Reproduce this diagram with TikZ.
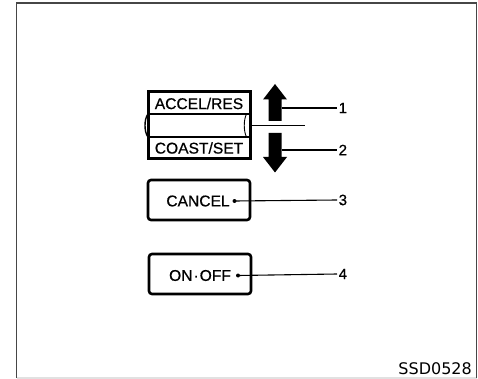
\documentclass[tikz,border=0pt]{standalone}
\usepackage{fontspec}
\setmainfont{Liberation Sans}
\newfontfamily\keyfont[FakeBold=0.6]{Liberation Sans}
\newfontfamily\codefont{DejaVu Sans}
\usetikzlibrary{positioning}
\definecolor{framegray}{RGB}{70,70,70}
\definecolor{lightframe}{RGB}{225,225,225}

\begin{document}
\begin{tikzpicture}[x=1pt,y=-1pt,
  keybox/.style={draw,line width=2.6pt,rounded corners=3pt,minimum width=102pt,minimum height=40pt,inner sep=0pt},
  keytext/.style={font=\keyfont\fontsize{15.6}{15.6}\selectfont,inner sep=0pt},
  leader/.style={line width=1.1pt},
  num/.style={font=\keyfont\fontsize{15}{15}\selectfont,inner sep=1.5pt,anchor=west},
  bigarrow/.style={fill=black}]
\useasboundingbox (0,0) rectangle (478,379);
% frame
\draw[lightframe,line width=1.2pt] (16.5,378) -- (476.5,378);
\draw[framegray,line width=1.8pt] (16.5,378) -- (16.5,3) -- (476.5,3) -- (476.5,378);
% resume / set switch
\node[draw,line width=3pt,minimum width=102pt,minimum height=67pt,inner sep=0pt] (switch) at (199,125.5) {};
\node[keytext] (accel) at (199,103.5) {ACCEL/RES};
\node[keytext] (coast) at (199,148) {COAST/SET};
\draw[line width=1.4pt] (148,114) -- (250,114);
\draw[line width=1.4pt] (148,137) -- (250,137);
\draw[line width=1.4pt] (148,114) .. controls (144,119) and (144,132) .. (148,137);
\draw[line width=0.9pt] (246.5,114) .. controls (243.5,120) and (243.5,131) .. (246.5,137);
\coordinate (roller) at (250,125.5);
\coordinate (rollerend) at (305,125.5);
\draw[leader] (roller) -- (rollerend);
% arrows
\fill[bigarrow] (275,84) -- (287,99.5) -- (281.5,99.5) -- (281.5,121) -- (268.5,121) -- (268.5,99.5) -- (263,99.5) -- cycle;
\fill[bigarrow] (268.5,133) -- (281.5,133) -- (281.5,157) -- (287,157) -- (275,172.5) -- (263,157) -- (268.5,157) -- cycle;
\coordinate (uparrow) at (281.5,108);
\coordinate (downarrow) at (281.5,150);
% cancel and main switch
\node[keybox] (cancel) at (199,200) {};
\node[keytext] (canceltxt) at (198,201) {CANCEL};
\fill (234.5,201) circle (2pt) coordinate (canceldot);
\node[keybox] (onoff) at (200,274) {};
\node[keytext] (onofftxt) at (200,275.5) {ON\kern1pt·\kern1pt OFF};
\fill (238,275.5) circle (2pt) coordinate (onoffdot);
% numbers
\node[num] (n1) at (337,108) {1};
\node[num] (n2) at (337,150) {2};
\node[num] (n3) at (337,200) {3};
\node[num] (n4) at (337,274) {4};
\draw[leader] (uparrow) -- (n1);
\draw[leader] (downarrow) -- (n2);
\draw[leader] (canceldot) -- (n3.west);
\draw[leader] (onoffdot) -- (n4.west);
\node[font=\codefont\fontsize{16}{16}\selectfont,anchor=base east,inner sep=0pt] (code) at (472,374) {SSD0528};
\end{tikzpicture}
\end{document}
